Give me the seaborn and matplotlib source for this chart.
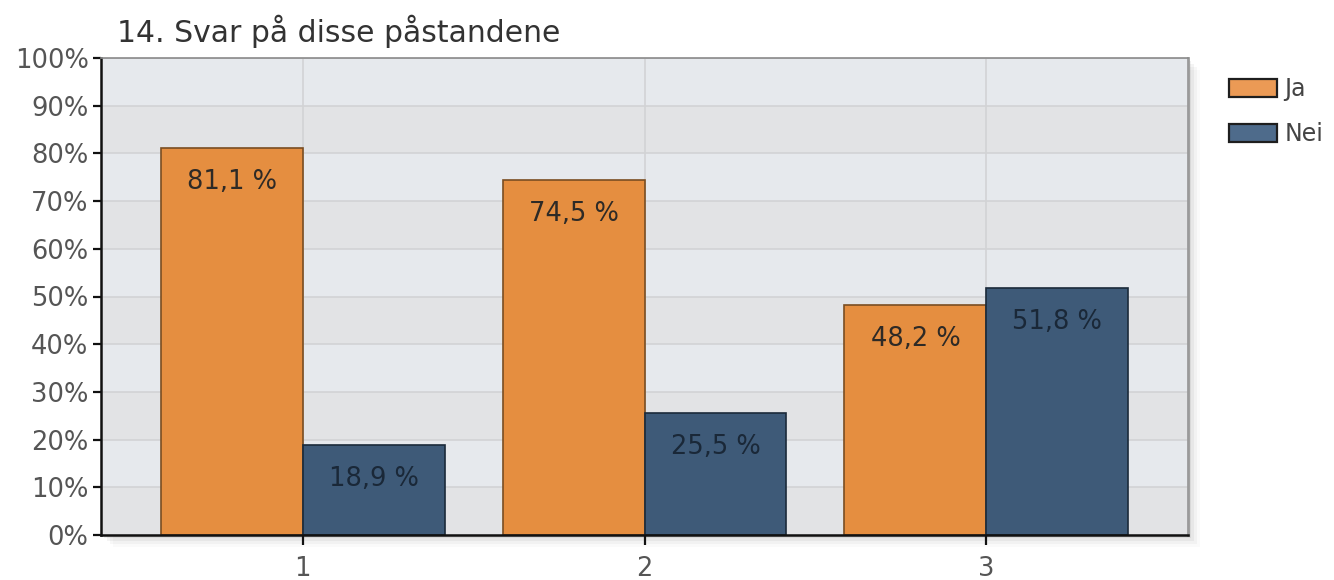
import matplotlib
matplotlib.use("Agg")
import matplotlib.pyplot as plt
import matplotlib.patches as mpatches
import numpy as np
import pandas as pd
import seaborn as sns

# Survey results: share answering Ja / Nei for each statement
statements = ["1", "2", "3"]
answers = ["Ja", "Nei"]
ja_pct = [81.1, 74.5, 48.2]
nei_pct = [18.9, 25.5, 51.8]
y_ticks = list(range(0, 101, 10))
title = "14. Svar på disse påstandene"

df = pd.DataFrame({
    "statement": statements * 2,
    "answer": ["Ja"] * len(statements) + ["Nei"] * len(statements),
    "pct": ja_pct + nei_pct,
})

sns.set_theme(style="white")
plt.rcParams["font.family"] = ["DejaVu Sans"]

face = {"Ja": "#e58e40", "Nei": "#3e5a78"}
edge = {"Ja": "#7a4e22", "Nei": "#1b2a3a"}
legend_face = {"Ja": "#eb9a55", "Nei": "#4e6b8b"}
label_color = {"Ja": "#2e2a26", "Nei": "#1a2838"}

fig = plt.figure(figsize=(13.34, 5.8), dpi=100)
ax = fig.add_axes([101 / 1334, 45 / 580, 1087 / 1334, 477 / 580])
ax.set_zorder(2)

# soft drop shadow behind the plot area
for i, a in enumerate([0.06, 0.045, 0.03, 0.02]):
    off = (i + 1) * 3
    fig.patches.append(mpatches.Rectangle(
        ((101 + off) / 1334, (45 - off) / 580), 1087 / 1334, 477 / 580,
        transform=fig.transFigure, facecolor="#000000", alpha=a,
        edgecolor="none", zorder=0))

ax.set_facecolor("#e6e9ed")
for k, lo in enumerate(y_ticks[:-1]):
    if k % 2 == 0:
        ax.axhspan(lo, lo + 10, facecolor="#e2e3e5", edgecolor="none", zorder=0)

sns.barplot(data=df, x="statement", y="pct", hue="answer", order=statements,
            hue_order=answers, palette=face, width=0.83, saturation=1,
            errorbar=None, ax=ax, zorder=3, legend=False)

for container, ans in zip(ax.containers, answers):
    for bar in container:
        bar.set_edgecolor(edge[ans])
        bar.set_linewidth(1.2)
    vals = ja_pct if ans == "Ja" else nei_pct
    for bar, v in zip(container, vals):
        ax.annotate(f"{v:.1f} %".replace(".", ","),
                    xy=(bar.get_x() + bar.get_width() / 2, v),
                    xytext=(0, -34), textcoords="offset pixels",
                    ha="center", va="center", fontsize=18.5,
                    color=label_color[ans], zorder=5)

ax.set_xlim(-0.59, 2.59)
ax.set_ylim(0, 100)
ax.set_yticks(y_ticks)
ax.set_yticklabels([f"{t}%" for t in y_ticks])
ax.set_xlabel("")
ax.set_ylabel("")

ax.grid(True, axis="both", color="#d2d3d5", linewidth=1.2, zorder=1)
ax.set_axisbelow(True)

ax.tick_params(axis="y", direction="out", length=6, width=1.6, color="#111111",
               labelsize=18.5, labelcolor="#555555", pad=3, left=True)
ax.tick_params(axis="x", direction="out", length=7, width=1.6, color="#111111",
               labelsize=18.5, labelcolor="#555555", pad=8, bottom=True)

for side in ["left", "bottom"]:
    ax.spines[side].set_color("#111111")
    ax.spines[side].set_linewidth(1.8)
ax.spines["top"].set_color("#8a8a8a")
ax.spines["top"].set_linewidth(1.2)
ax.spines["right"].set_color("#9a9a9a")
ax.spines["right"].set_linewidth(2.0)
for s in ax.spines.values():
    s.set_zorder(6)

fig.text(117 / 1334, 1 - 42 / 580, title, fontsize=21.5, color="#333333",
         ha="left", va="baseline")

handles = [mpatches.Patch(facecolor=legend_face[a], edgecolor="#1e1e1e",
                          linewidth=1.6, label=a) for a in answers]
fig.legend(handles=handles, loc="upper left",
           bbox_to_anchor=(1229 / 1334, 1 - 77 / 580),
           bbox_transform=fig.transFigure, frameon=False, fontsize=17,
           handlelength=2.05, handleheight=0.78, handletextpad=0.3,
           labelspacing=0.9, borderpad=0, borderaxespad=0,
           labelcolor="#444444")

fig.savefig("out.png", dpi=100)
